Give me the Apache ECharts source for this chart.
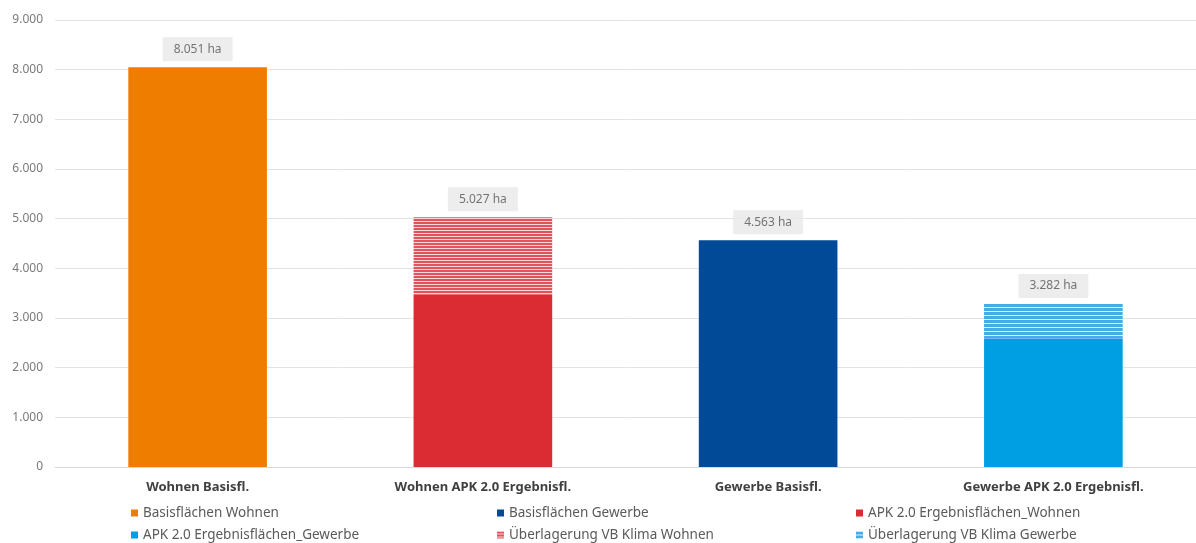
<!DOCTYPE html>
<html><head><meta charset="utf-8">
<script src="https://cdn.jsdelivr.net/npm/echarts@6/dist/echarts.min.js"></script>
<style>html,body{margin:0;padding:0;background:#fff}#c{width:1196px;height:543px}</style>
</head><body><div id="c"></div>
<script>
const categories = ['Wohnen Basisfl.', 'Wohnen APK 2.0 Ergebnisfl.', 'Gewerbe Basisfl.', 'Gewerbe APK 2.0 Ergebnisfl.'];
const basisWohnen = [8051, '-', '-', '-'];
const basisGewerbe = ['-', '-', 4563, '-'];
const apkWohnen = ['-', 3470, '-', '-'];
const klimaWohnen = ['-', 1557, '-', '-'];
const apkGewerbe = ['-', '-', '-', 2580];
const klimaGewerbe = ['-', '-', '-', 702];
const totals = [8051, 5027, 4563, 3282];
const yTicks = [0, 1000, 2000, 3000, 4000, 5000, 6000, 7000, 8000, 9000];

function stripe(c1, c2, h1, h2) {
  const cv = document.createElement('canvas');
  cv.width = 4; cv.height = h1 + h2;
  const ctx = cv.getContext('2d');
  ctx.fillStyle = c1; ctx.fillRect(0, 0, 4, h1);
  ctx.fillStyle = c2; ctx.fillRect(0, h1, 4, h2);
  return { image: cv, repeat: 'repeat' };
}
const redStripe = stripe('#e2535b', '#f7d6d8', 2, 1);
const blueStripe = stripe('#45ace7', '#e3f3fc', 3, 1);

const FONT = 'Noto Sans';
const chart = echarts.init(document.getElementById('c'));
const fmt = v => {
  const s = String(v);
  return s.length > 3 ? s.slice(0, s.length - 3) + '.' + s.slice(-3) : s;
};
function bar(name, data, color) {
  return { name, type: 'bar', stack: 'all', data, barWidth: '48.6%', itemStyle: { color }, emphasis: { disabled: true } };
}
const legendText = { color: '#5a5a5a', fontSize: 13.5, lineHeight: 16, fontFamily: FONT };
function leg(left, names) {
  return { orient: 'vertical', left, top: 505, height: 60, itemWidth: 7, itemHeight: 7, itemGap: 6, icon: 'rect', data: names, textStyle: legendText, selectedMode: false, padding: 0 };
}
chart.setOption({
  animation: false,
  textStyle: { fontFamily: FONT },
  grid: { left: 55, right: 0, top: 20, bottom: 76 },
  legend: [
    leg(131, ['Basisflächen Wohnen', 'APK 2.0 Ergebnisflächen_Gewerbe']),
    leg(497, ['Basisflächen Gewerbe', 'Überlagerung VB Klima Wohnen']),
    leg(856, ['APK 2.0 Ergebnisflächen_Wohnen', 'Überlagerung VB Klima Gewerbe'])
  ],
  xAxis: {
    type: 'category', data: categories,
    axisLine: { lineStyle: { color: '#d9d9d9' } }, axisTick: { show: false },
    axisLabel: { color: '#404040', fontWeight: 'bold', fontSize: 13, margin: 14, fontFamily: FONT }
  },
  yAxis: {
    type: 'value', min: 0, max: 9000, interval: 1000,
    axisLabel: { color: '#7a7a7a', fontSize: 12, margin: 12, fontFamily: FONT, formatter: v => fmt(v) },
    splitLine: { lineStyle: { color: '#e3e3e3' } }, axisLine: { show: false }, axisTick: { show: false }
  },
  series: [
    bar('Basisflächen Wohnen', basisWohnen, '#ef7d00'),
    bar('Basisflächen Gewerbe', basisGewerbe, '#004a97'),
    bar('APK 2.0 Ergebnisflächen_Wohnen', apkWohnen, '#dc2c33'),
    bar('APK 2.0 Ergebnisflächen_Gewerbe', apkGewerbe, '#009fe3'),
    bar('Überlagerung VB Klima Wohnen', klimaWohnen, redStripe),
    bar('Überlagerung VB Klima Gewerbe', klimaGewerbe, blueStripe),
    {
      type: 'scatter', data: totals, symbolSize: 0, silent: true, z: 10,
      label: {
        show: true, position: 'top', distance: 6,
        formatter: p => fmt(p.value) + ' ha',
        backgroundColor: '#e9e9e9', padding: [6, 11], color: '#555', fontSize: 12, fontFamily: FONT
      }
    }
  ]
});
</script></body></html>
